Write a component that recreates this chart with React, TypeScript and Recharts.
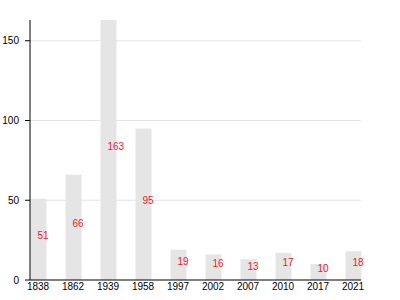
import { BarChart, Bar, XAxis, YAxis, CartesianGrid, LabelList } from 'recharts';

const years = ['1838', '1862', '1939', '1958', '1997', '2002', '2007', '2010', '2017', '2021'];
const counts = [51, 66, 163, 95, 19, 16, 13, 17, 10, 18];
const yTicks = [0, 50, 100, 150];

const chartData = years.map((year, i) => ({ year, count: counts[i] }));

const font = '"Liberation Sans", Arial, sans-serif';

const ValueLabel = (props: any) => {
  const { x, y, width, height, value } = props;
  return (
    <text
      x={x + width / 2 - 1}
      y={y + height / 2}
      textAnchor="start"
      fill="#e8212e"
      fontSize={10}
      fontFamily={font}
    >
      {value}
    </text>
  );
};

const App = () => {
  return (
    <div style={{ position: 'absolute', left: 0, top: 0, width: 400, height: 300, background: '#fff' }}>
      <BarChart
        width={400}
        height={300}
        data={chartData}
        margin={{ top: 20, right: 39, left: 0, bottom: 0 }}
      >
        <CartesianGrid vertical={false} stroke="#e3e3e3" horizontalValues={[50, 100, 150]} />
        <XAxis
          dataKey="year"
          height={20}
          padding={{ left: -9.5, right: -9.5 }}
          tickLine={false}
          tickSize={0}
          tickMargin={3}
          axisLine={{ stroke: '#000' }}
          tick={{ fill: '#000', fontSize: 10, fontFamily: font }}
          interval={0}
        />
        <YAxis
          width={30}
          domain={[0, 163]}
          ticks={yTicks}
          tickSize={5}
          tickMargin={6}
          axisLine={{ stroke: '#000' }}
          tickLine={{ stroke: '#000' }}
          tick={{ fill: '#000', fontSize: 10, fontFamily: font }}
        />
        <Bar dataKey="count" fill="#e5e5e5" barSize={16} isAnimationActive={false}>
          <LabelList dataKey="count" content={<ValueLabel />} />
        </Bar>
      </BarChart>
    </div>
  );
};

export default App;
